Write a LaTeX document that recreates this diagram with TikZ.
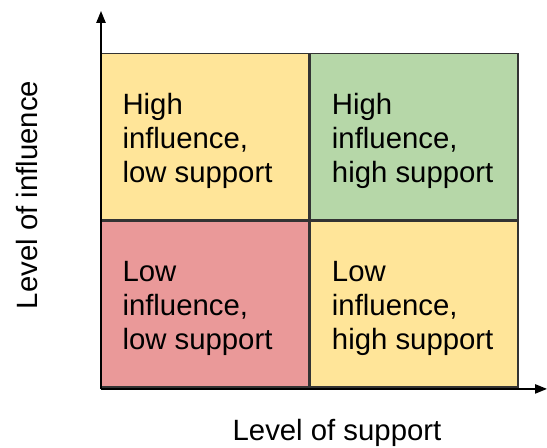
\documentclass[tikz,border=0pt]{standalone}
\usepackage{fontspec}
\setmainfont{Liberation Sans}
\usetikzlibrary{arrows.meta}

\definecolor{quadyellow}{HTML}{FFE599}
\definecolor{quadgreen}{HTML}{B6D7A8}
\definecolor{quadred}{HTML}{EA9999}

\tikzset{every picture/.style={line width=0.75pt}}

\begin{document}
\begin{tikzpicture}[x=0.75pt,y=0.75pt,yscale=-1,xscale=1,
  quad/.style={draw=black!80, line width=1.1pt, minimum width=156pt, minimum height=124.5pt, inner sep=0pt, anchor=north west},
  quadtext/.style={anchor=north west, inner sep=0pt, align=left, font=\fontsize{22}{25.5}\selectfont},
  axislabel/.style={inner sep=0pt, font=\fontsize{22}{25.5}\selectfont},
  axis/.style={line width=1.1pt, -{Triangle[length=9pt,width=7pt]}}]
\useasboundingbox (0,0) rectangle (547,448);

%Shape: Quadrants
\node [quad, fill=quadyellow] (hl) at (100,53) {};
\node [quad, fill=quadgreen] (hh) at (hl.north east) {};
\node [quad, fill=quadred] (ll) at (hl.south west) {};
\node [quad, fill=quadyellow] (lh) at (ll.north east) {};

% Text Node
\node [quadtext] (hltext) at ([shift={(22,40)}]hl.north west) {High\\influence,\\low support};
% Text Node
\node [quadtext] (hhtext) at ([shift={(22,40)}]hh.north west) {High\\influence,\\high support};
% Text Node
\node [quadtext] (lltext) at ([shift={(22,40)}]ll.north west) {Low\\influence,\\low support};
% Text Node
\node [quadtext] (lhtext) at ([shift={(22,40)}]lh.north west) {Low\\influence,\\high support};

%Straight Lines: axes
\coordinate (origin) at ([shift={(1,1)}]ll.south west);
\coordinate (ytip) at (origin |- 0,11);
\coordinate (xtip) at (origin -| 547,0);
\draw [axis] (origin) -- (ytip);
\draw [axis] (origin) -- (xtip);

% Text Node
\node [axislabel, rotate=90, anchor=base] (ylabel) at (37,195) {Level of influence};
% Text Node
\node [axislabel, anchor=base] (xlabel) at (337,441) {Level of support};

\end{tikzpicture}
\end{document}
